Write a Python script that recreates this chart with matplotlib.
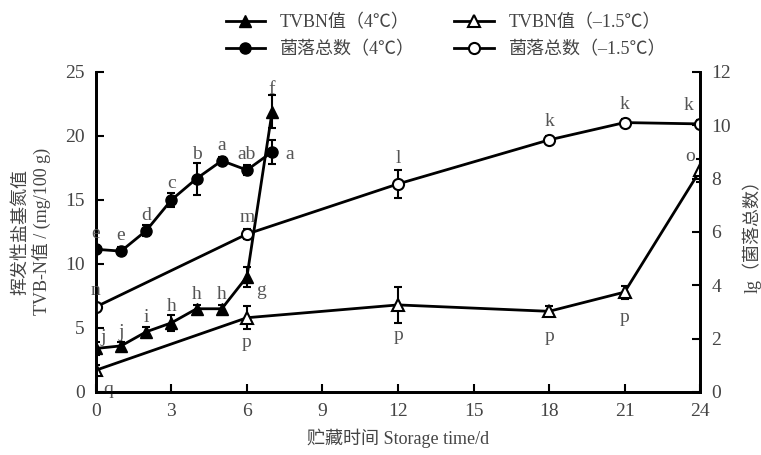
import matplotlib
matplotlib.use('Agg')
from matplotlib import pyplot as plt
from matplotlib.lines import Line2D

plt.rcParams['font.family'] = ['Liberation Serif', 'Noto Sans CJK SC']
plt.rcParams['axes.unicode_minus'] = False

# TVB-N (left axis)
days_4 = [0, 1, 2, 3, 4, 5, 6, 7]
tvbn_4 = [3.4, 3.6, 4.7, 5.4, 6.5, 6.5, 9.0, 21.9]
tvbn_4_err = [0.5, 0.3, 0.4, 0.6, 0.3, 0.3, 0.8, 1.3]
tvbn_4_lab = ['j', 'j', 'i', 'h', 'h', 'h', 'g', 'f']

days_m15 = [0, 6, 12, 18, 21, 24]
tvbn_m15 = [1.7, 5.8, 6.8, 6.3, 7.8, 17.3]
tvbn_m15_err = [0.4, 0.9, 1.4, 0.4, 0.5, 0.9]
tvbn_m15_lab = ['q', 'p', 'p', 'p', 'p', 'o']

# total colony count, lg (right axis)
cfu_4 = [5.35, 5.28, 6.05, 7.2, 8.0, 8.67, 8.32, 9.0]
cfu_4_err = [0.15, 0.15, 0.2, 0.25, 0.6, 0.15, 0.2, 0.45]
cfu_4_lab = ['e', 'e', 'd', 'c', 'b', 'a', 'ab', 'a']

cfu_m15 = [3.19, 5.92, 7.8, 9.45, 10.1, 10.05]
cfu_m15_err = [0.15, 0.2, 0.53, 0.15, 0.15, 0.15]
cfu_m15_lab = ['n', 'm', 'l', 'k', 'k', 'k']

legend_labels = ['TVBN值（4℃）', '菌落总数（4℃）', 'TVBN值（–1.5℃）', '菌落总数（–1.5℃）']

fig = plt.figure(figsize=(7.61, 4.55), dpi=100)
ax = fig.add_axes([0.126, 0.1385, 0.794, 0.7035])
ax2 = ax.twinx()

lab_color = '#555555'
txt_color = '#444444'
kw = dict(color='black', lw=2, capsize=3, elinewidth=1.5, capthick=1.5, ms=8)

ax.errorbar(days_4, tvbn_4, yerr=tvbn_4_err, marker='^', mfc='black', mec='black', **kw)
ax.errorbar(days_m15, tvbn_m15, yerr=tvbn_m15_err, marker='^', mfc='white', mec='black', mew=1.5, **kw)
ax2.errorbar(days_4, cfu_4, yerr=cfu_4_err, marker='o', mfc='black', mec='black', **kw)
ax2.errorbar(days_m15, cfu_m15, yerr=cfu_m15_err, marker='o', mfc='white', mec='black', mew=1.5, **kw)

# significance letters (offsets in points)
off_tvbn_4 = [(5, 8), (0, 10), (0, 10), (0, 12), (0, 10), (0, 10), (10, -10), (0, 16)]
off_tvbn_m15 = [(9, -14), (0, -18), (0, -22), (0, -18), (0, -18), (-7, 10)]
off_cfu_4 = [(0, 11), (0, 11), (0, 11), (0, 12), (0, 17), (0, 11), (0, 11), (13, -2)]
off_cfu_m15 = [(0, 12), (0, 12), (0, 18), (0, 13), (0, 13), (-8, 13)]

for x, y, t, o in zip(days_4, tvbn_4, tvbn_4_lab, off_tvbn_4):
    ax.annotate(t, (x, y), xytext=o, textcoords='offset points', ha='center', va='center',
                fontsize=14, color=lab_color)
for x, y, t, o in zip(days_m15, tvbn_m15, tvbn_m15_lab, off_tvbn_m15):
    ax.annotate(t, (x, y), xytext=o, textcoords='offset points', ha='center', va='center',
                fontsize=14, color=lab_color)
for x, y, t, o in zip(days_4, cfu_4, cfu_4_lab, off_cfu_4):
    ax2.annotate(t, (x, y), xytext=o, textcoords='offset points', ha='center', va='center',
                 fontsize=14, color=lab_color)
for x, y, t, o in zip(days_m15, cfu_m15, cfu_m15_lab, off_cfu_m15):
    ax2.annotate(t, (x, y), xytext=o, textcoords='offset points', ha='center', va='center',
                 fontsize=14, color=lab_color)

ax.set_xlim(0, 24)
ax.set_ylim(0, 25)
ax2.set_ylim(0, 12)
ax.set_xticks(range(0, 25, 3))
ax.set_yticks(range(0, 26, 5))
ax2.set_yticks(range(0, 13, 2))

for a in (ax, ax2):
    a.spines['top'].set_visible(False)
    for s in a.spines.values():
        s.set_linewidth(2)
    a.tick_params(direction='in', length=6, width=1.5, labelsize=14, labelcolor=txt_color, pad=8)

ax.set_xlabel('贮藏时间 Storage time/d', fontsize=13, color=txt_color, labelpad=6)
ax.set_ylabel('挥发性盐基氮值\nTVB-N值 / (mg/100 g)', fontsize=13, color=txt_color, labelpad=10)
ax2.set_ylabel('lg（菌落总数）', fontsize=13, color=txt_color, labelpad=8)

handles = [
    Line2D([], [], color='black', lw=2, marker='^', ms=8, mfc='black'),
    Line2D([], [], color='black', lw=2, marker='o', ms=8, mfc='black'),
    Line2D([], [], color='black', lw=2, marker='^', ms=8, mfc='white', mew=1.5),
    Line2D([], [], color='black', lw=2, marker='o', ms=8, mfc='white', mew=1.5),
]
fig.legend(handles, legend_labels,
           ncol=2, loc='upper left', bbox_to_anchor=(0.275, 1.005), frameon=False,
           fontsize=13, columnspacing=2.2, handlelength=2.2, labelspacing=0.55,
           labelcolor=txt_color)

fig.savefig('out.png', dpi=100)
